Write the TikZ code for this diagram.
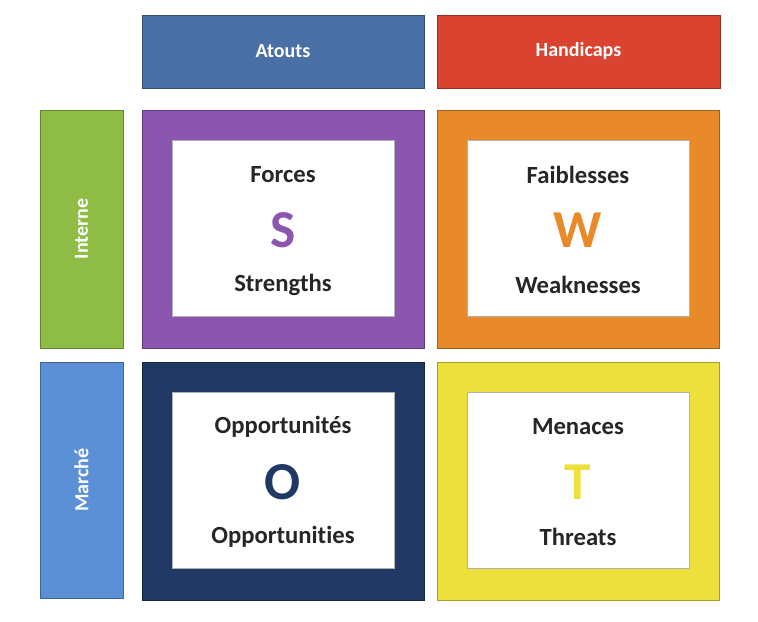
\documentclass[tikz,border=0pt]{standalone}
\usepackage{fontspec}
\setmainfont[Ligatures=NoCommon]{Carlito}
\begin{document}
\begin{tikzpicture}[x=0.75pt,y=-0.75pt,
  hdr/.style={draw=#1!70!black,fill=#1,text=white,font=\bfseries\fontsize{15}{17}\selectfont},
  frame/.style={fill=#1,draw=#1!70!black,line width=0.6pt},
  inner/.style={fill=white,draw=gray!60},
  lbl/.style={font=\bfseries\fontsize{18.5}{20}\selectfont,text=black!85},
  big/.style={font=\bfseries\fontsize{40}{42}\selectfont,text=#1}]
\definecolor{cA}{HTML}{4A6FA5}\definecolor{cH}{HTML}{D9432F}
\definecolor{cI}{HTML}{8FBC45}\definecolor{cM}{HTML}{5B8FD6}
\definecolor{cS}{HTML}{8A56B0}\definecolor{cW}{HTML}{E88A2A}
\definecolor{cO}{HTML}{1F3864}\definecolor{cT}{HTML}{EEE03C}
\useasboundingbox (0,0) rectangle (758,622);
\fill[white] (0,0) rectangle (758,622);
\draw[hdr=cA] (142,15) rectangle node (ha) {Atouts} (424,88);
\draw[hdr=cH] (437,15) rectangle node (hh) {Handicaps} (720,88);
\draw[hdr=cI] (40,110) rectangle node[rotate=90] (li) {Interne} (123,348);
\draw[hdr=cM] (40,362) rectangle node[rotate=90] (lm) {Marché} (123,598);
\foreach \x/\y/\c/\n in {142/110/cS/s,437/110/cW/w,142/362/cO/o,437/362/cT/t}{
  \draw[frame=\c] (\x,\y) rectangle ++(282,238);
  \draw[inner] (\x+30,\y+30) rectangle ++(222,176);
}
\node[lbl] (fs) at (283,175) {Forces};
\node[big=cS] (S) at (283,230) {S};
\node[lbl] (st) at (283,285) {Strengths};
\node[lbl] (fw) at (578,175) {Faiblesses};
\node[big=cW] (W) at (578,230) {W};
\node[lbl] (we) at (578,285) {Weaknesses};
\node[lbl] (op) at (283,427) {Opportunités};
\node[big=cO] (O) at (283,482) {O};
\node[lbl] (opp) at (283,537) {Opportunities};
\node[lbl] (me) at (578,427) {Menaces};
\node[big=cT] (T) at (578,482) {T};
\node[lbl] (th) at (578,537) {Threats};
\end{tikzpicture}
\end{document}
